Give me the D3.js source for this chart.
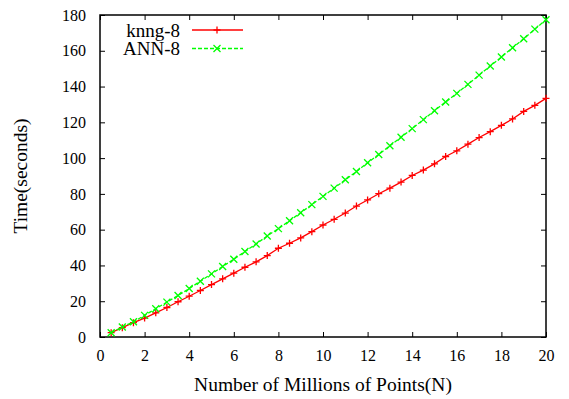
<!DOCTYPE html>
<html>
<head>
<meta charset="utf-8">
<script src="https://cdn.jsdelivr.net/npm/d3@7"></script>
<style>
  body { margin: 0; background: #fff; }
</style>
</head>
<body>
<svg id="chart" width="569" height="399"></svg>
<script>
// Data
var millions = [0.5, 1, 1.5, 2, 2.5, 3, 3.5, 4, 4.5, 5, 5.5, 6, 6.5, 7, 7.5, 8, 8.5, 9, 9.5, 10,
  10.5, 11, 11.5, 12, 12.5, 13, 13.5, 14, 14.5, 15, 15.5, 16, 16.5, 17, 17.5, 18, 18.5, 19, 19.5, 20];
var knng8 = [2.4, 5.2, 8.0, 10.6, 13.5, 16.5, 19.7, 22.8, 26.0, 29.3, 32.5, 35.7, 39.0, 42.0, 45.5, 49.6, 52.4, 55.4, 58.9, 62.6,
  65.8, 69.3, 73.2, 76.6, 80.1, 83.2, 86.6, 90.3, 93.3, 96.8, 100.9, 104.1, 107.8, 111.5, 114.8, 118.3, 121.9, 126.1, 129.5, 133.4];
var ann8 = [2.4, 5.6, 8.5, 12.1, 15.8, 19.5, 23.2, 27.1, 31.2, 35.3, 39.4, 43.5, 47.8, 52.0, 56.5, 60.6, 65.0, 69.5, 74.0, 78.6,
  83.2, 87.9, 92.5, 97.4, 102.0, 106.9, 111.7, 116.5, 121.5, 126.5, 131.4, 136.2, 141.2, 146.4, 151.5, 156.5, 161.7, 166.7, 172.1, 177.3];
var xTicks = [0, 2, 4, 6, 8, 10, 12, 14, 16, 18, 20];
var yTicks = [0, 20, 40, 60, 80, 100, 120, 140, 160, 180];

var svg = d3.select("#chart");
var margin = { top: 15, right: 23, bottom: 62, left: 100 };
var width = 569 - margin.left - margin.right;
var height = 399 - margin.top - margin.bottom;

var x = d3.scaleLinear().domain([0, 20]).range([0, width]);
var y = d3.scaleLinear().domain([0, 180]).range([height, 0]);

var g = svg.append("g").attr("transform", `translate(${margin.left},${margin.top})`);

// axes with inward ticks, mirrored on top/right like gnuplot
var tickLen = 5;
var xAxisB = g.append("g").attr("transform", `translate(0,${height})`)
  .call(d3.axisBottom(x).tickValues(xTicks).tickSizeInner(-tickLen).tickSizeOuter(0).tickPadding(13));
var yAxisL = g.append("g")
  .call(d3.axisLeft(y).tickValues(yTicks).tickSizeInner(-tickLen).tickSizeOuter(0).tickPadding(14));
var xAxisT = g.append("g")
  .call(d3.axisTop(x).tickValues(xTicks).tickSizeInner(-tickLen).tickSizeOuter(0).tickFormat(""));
var yAxisR = g.append("g").attr("transform", `translate(${width},0)`)
  .call(d3.axisRight(y).tickValues(yTicks).tickSizeInner(-tickLen).tickSizeOuter(0).tickFormat(""));

[xAxisB, yAxisL, xAxisT, yAxisR].forEach((ax) => {
  ax.select(".domain").remove();
  ax.selectAll("line").attr("stroke", "#000").attr("stroke-width", 1);
  ax.selectAll("text").attr("font-size", 16).attr("fill", "#000");
});

g.append("rect")
  .attr("width", width).attr("height", height)
  .attr("fill", "none").attr("stroke", "#000").attr("stroke-width", 1.5);

// series
var series = [
  { name: "knng-8", values: knng8, color: "#ff0000", dash: null, mark: "plus" },
  { name: "ANN-8", values: ann8, color: "#00ff00", dash: "4,2", mark: "cross" },
];

var line = d3.line().x((d) => x(d[0])).y((d) => y(d[1]));

function drawMark(sel, type, cx, cy, color) {
  var s = 3.5;
  var p = type == "plus"
    ? `M${cx - s},${cy}H${cx + s}M${cx},${cy - s}V${cy + s}`
    : `M${cx - s},${cy - s}L${cx + s},${cy + s}M${cx - s},${cy + s}L${cx + s},${cy - s}`;
  sel.append("path").attr("d", p).attr("stroke", color).attr("stroke-width", 1.3).attr("fill", "none");
}

series.forEach((s) => {
  var pts = millions.map((m, i) => [m, s.values[i]]);
  g.append("path").datum(pts)
    .attr("d", line)
    .attr("fill", "none")
    .attr("stroke", s.color)
    .attr("stroke-width", 1.3)
    .attr("stroke-dasharray", s.dash);
  var mg = g.append("g");
  pts.forEach((d) => drawMark(mg, s.mark, x(d[0]), y(d[1]), s.color));
});

// legend
var legend = g.append("g");
series.forEach((s, i) => {
  var ly = 15 + i * 18.5;
  legend.append("text")
    .attr("x", 80).attr("y", ly).attr("dy", "0.35em")
    .attr("text-anchor", "end").attr("font-size", 19)
    .text(s.name);
  legend.append("line")
    .attr("x1", 92).attr("x2", 143).attr("y1", ly).attr("y2", ly)
    .attr("stroke", s.color).attr("stroke-width", 1.3)
    .attr("stroke-dasharray", s.dash);
  drawMark(legend, s.mark, 117, ly, s.color);
});

// axis titles
svg.append("text")
  .attr("x", margin.left + width / 2).attr("y", 391)
  .attr("text-anchor", "middle").attr("font-size", 19.5)
  .text("Number of Millions of Points(N)");

svg.append("text")
  .attr("transform", `translate(20,${margin.top + height / 2}) rotate(-90)`)
  .attr("dy", "0.35em")
  .attr("text-anchor", "middle").attr("font-size", 19.5)
  .text("Time(seconds)");

// serif font everywhere, set inline so the axis default does not win
svg.selectAll("text").style("font-family", '"Liberation Serif"');
</script>
</body>
</html>
